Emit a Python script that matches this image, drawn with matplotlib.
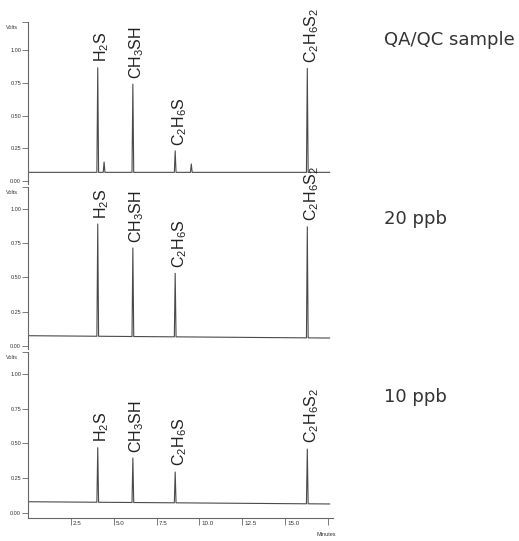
import numpy as np
import matplotlib
matplotlib.use("Agg")
import matplotlib.pyplot as plt
import matplotlib.transforms as mtransforms

plt.rcParams['font.family'] = ['Liberation Sans', 'DejaVu Sans']
plt.rcParams['mathtext.default'] = 'regular'
plt.rcParams['mathtext.fontset'] = 'custom'
plt.rcParams['mathtext.rm'] = 'Liberation Sans'
plt.rcParams['mathtext.it'] = 'Liberation Sans'

# peak names and retention times (minutes)
compounds = [r'$H_2S$', r'$CH_3SH$', r'$C_2H_6S$', r'$C_2H_6S_2$']
retention = [4.07, 6.12, 8.59, 16.3]

# apex heights (Volts) for each run
qaqc_heights = [0.865, 0.74, 0.23, 0.86]
ppb20_heights = [0.89, 0.715, 0.53, 0.87]
ppb10_heights = [0.47, 0.395, 0.295, 0.46]

# small unlabelled peaks in the QA/QC run
qaqc_minor_times = [4.44, 9.53]
qaqc_minor_heights = [0.145, 0.13]

# baseline level at start / end of each run
qaqc_base = [0.066, 0.066]
ppb20_base = [0.075, 0.058]
ppb10_base = [0.081, 0.065]

run_labels = ['QA/QC sample', '20 ppb', '10 ppb']
yticks = [0.0, 0.25, 0.5, 0.75, 1.0]
ytick_labels = ['0.00', '0.25', '0.50', '0.75', '1.00']
xticks = [2.5, 5.0, 7.5, 10.0, 12.5, 15.0, 17.5]
xtick_labels = ['2.5', '5.0', '7.5', '10.0', '12.5', '15.0', '']

W, H = 519, 541
fig = plt.figure(figsize=(W / 100, H / 100), dpi=100)

t_end = 17.6
half_w = 0.05
line_col = '#4a4a4a'
axis_col = '#666666'


def trace(times, heights, base):
    # chromatogram: straight baseline with narrow triangular peaks
    def b(t):
        return base[0] + (base[1] - base[0]) * t / t_end
    order = np.argsort(times)
    xs = [0.0]
    ys = [b(0.0)]
    for i in order:
        t = times[i]
        xs += [t - half_w, t, t + half_w]
        ys += [b(t - half_w), heights[i], b(t + half_w)]
    xs.append(t_end)
    ys.append(b(t_end))
    return xs, ys


# axes placement in pixels: (top, bottom, ymin, ymax)
panels = [
    (22, 184, -0.023, 1.214),
    (187, 349, -0.022, 1.16),
    (352, 518, -0.036, 1.158),
]
x_left, x_right = 28, 333

runs = [
    (qaqc_heights, qaqc_base, qaqc_minor_times, qaqc_minor_heights),
    (ppb20_heights, ppb20_base, [], []),
    (ppb10_heights, ppb10_base, [], []),
]

for k, ((top, bot, ymin, ymax), (heights, base, mt, mh)) in enumerate(zip(panels, runs)):
    ax = fig.add_axes([x_left / W, 1 - bot / H, (x_right - x_left) / W, (bot - top) / H])
    times = retention + mt
    hts = heights + mh
    xs, ys = trace(times, hts, base)
    ax.plot(xs, ys, color=line_col, lw=0.8)
    ax.set_xlim(0, 17.8)
    ax.set_ylim(ymin, ymax)

    for name, t, h in zip(compounds, retention, heights):
        ax.text(t + 0.24, h + 0.04, name, rotation=90, ha='center', va='bottom',
                fontsize=11.5, color='#222222', clip_on=False)

    for s in ['top', 'right']:
        ax.spines[s].set_visible(False)
    ax.spines['left'].set_color(axis_col)
    ax.spines['left'].set_linewidth(0.8)
    ax.set_yticks(yticks)
    ax.set_yticklabels(ytick_labels)
    ax.set_yticks([ymax], minor=True)
    ax.tick_params(axis='y', which='both', length=4, width=0.6, color=axis_col,
                   labelsize=4, labelcolor='#333333', pad=1)

    ax.text(-0.6, ymax - 0.04, 'Volts', fontsize=4, ha='right', va='center',
            color='#333333', transform=ax.transData)

    if k < 2:
        ax.spines['bottom'].set_visible(False)
        ax.set_xticks([])
    else:
        ax.spines['bottom'].set_color(axis_col)
        ax.spines['bottom'].set_linewidth(0.8)
        ax.set_xticks(xticks)
        ax.set_xticklabels(xtick_labels)
        ax.tick_params(axis='x', length=5, width=0.6, color=axis_col,
                       labelsize=4.5, labelcolor='#333333', pad=-3)
        off = mtransforms.ScaledTranslation(2 / 100, 0, fig.dpi_scale_trans)
        for lab in ax.get_xticklabels():
            lab.set_horizontalalignment('left')
            lab.set_transform(lab.get_transform() + off)

fig.text(326 / W, 1 - 535 / H, 'Minutes', fontsize=4, ha='center', va='center',
         color='#333333')

label_y = [40, 219, 397]
for lab, yp in zip(run_labels, label_y):
    fig.text(384 / W, 1 - yp / H, lab, fontsize=13, color='#333333',
             ha='left', va='center', family='DejaVu Sans')

fig.savefig('out.png', dpi=100)
